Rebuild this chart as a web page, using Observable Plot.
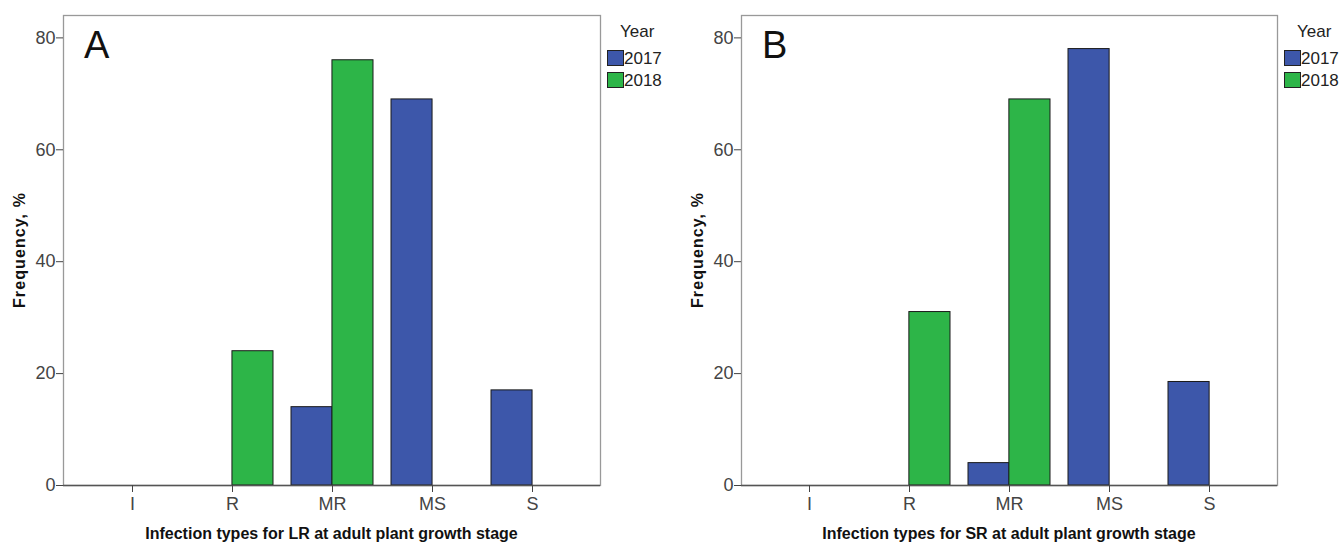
<!DOCTYPE html>
<html>
<head>
<meta charset="utf-8">
<script src="https://cdn.jsdelivr.net/npm/d3@7"></script>
<script src="https://cdn.jsdelivr.net/npm/@observablehq/plot@0.6"></script>
<style>
  body { margin: 0; background: #fff; }
  #wrap { position: relative; width: 1344px; height: 543px; overflow: hidden; background: #fff; }
  .panel { position: absolute; top: 0; width: 672px; height: 543px; }
  .panel svg { position: absolute; left: 0; top: 0; }
  .lbl { position: absolute; font-family: "Liberation Sans", Arial, sans-serif; color: #111; white-space: nowrap; }
  .xl { font-weight: bold; font-size: 16px; transform: translateX(-50%); }
  .yl { font-weight: bold; font-size: 16px; letter-spacing: 1.1px; transform: translate(-50%, -50%) rotate(-90deg); }
  .letter { font-size: 38px; line-height: 1; }
  .leg { font-size: 17px; color: #222; line-height: 1; }
  .sw { position: absolute; width: 15px; height: 14px; border: 1px solid #222; }
</style>
</head>
<body>
<div id="wrap"></div>
<script>
const types = ["I", "R", "MR", "MS", "S"];
const years = ["2017", "2018"];
const lr2017 = [0, 0, 14, 69, 17];
const lr2018 = [0, 24, 76, 0, 0];
const sr2017 = [0, 0, 4, 78, 18.5];
const sr2018 = [0, 31, 69, 0, 0];
const yTicks = [0, 20, 40, 60, 80];
const colors = ["#3D57AA", "#2DB548"];

const W = 672, H = 543;
const padInner = 0.183, padOuter = 0.27;
const tickFont = "'Liberation Sans Narrow', 'Arial Narrow', 'Liberation Sans', Arial, sans-serif";

function panel(left, values17, values18, xlabel, letter, mL, mR) {
  const div = document.createElement("div");
  div.className = "panel";
  div.style.left = left + "px";
  document.getElementById("wrap").appendChild(div);

  const plotW = W - mL - mR;
  const step = plotW / (types.length - padInner + 2 * padOuter);
  const bw = step * (1 - padInner);

  const d17 = types.map((t, i) => ({type: t, year: years[0], value: values17[i]}));
  const d18 = types.map((t, i) => ({type: t, year: years[1], value: values18[i]}));

  const chart = Plot.plot({
    width: W, height: H,
    marginLeft: mL, marginRight: mR, marginTop: 15, marginBottom: 58,
    style: {fontFamily: tickFont, fontSize: "18px", color: "#333", background: "transparent"},
    x: {domain: types, paddingInner: padInner, paddingOuter: padOuter, label: null},
    y: {domain: [0, 84], label: null},
    marks: [
      Plot.frame({stroke: "#999", strokeWidth: 1.3}),
      Plot.barY(d17, {x: "type", y: "value", fill: colors[0], stroke: "#1a1a1a", strokeWidth: 1, insetRight: bw / 2}),
      Plot.barY(d18, {x: "type", y: "value", fill: colors[1], stroke: "#1a1a1a", strokeWidth: 1, insetLeft: bw / 2}),
      Plot.ruleX([0], {frameAnchor: "left", stroke: "#555", strokeWidth: 1.3}),
      Plot.ruleY([0], {stroke: "#555", strokeWidth: 1.3}),
      Plot.axisY({ticks: yTicks, tickSize: 7, tickPadding: 1, label: null, stroke: "#444", fill: "#444", fontSize: 18, fontFamily: tickFont}),
      Plot.axisX({tickSize: 7, tickPadding: 5, label: null, stroke: "#444", fill: "#444", fontSize: 18, fontFamily: tickFont})
    ]
  });
  div.appendChild(chart);

  const xl = document.createElement("div");
  xl.className = "lbl xl";
  xl.textContent = xlabel;
  xl.style.left = (mL + plotW / 2) + "px";
  xl.style.top = "525px";
  div.appendChild(xl);

  const yl = document.createElement("div");
  yl.className = "lbl yl";
  yl.textContent = "Frequency, %";
  yl.style.left = (mL - 43) + "px";
  yl.style.top = "250px";
  div.appendChild(yl);

  const lt = document.createElement("div");
  lt.className = "lbl letter";
  lt.textContent = letter;
  lt.style.left = (mL + 21) + "px";
  lt.style.top = "26px";
  div.appendChild(lt);

  const lx = mL + plotW + 7;
  const yr = document.createElement("div");
  yr.className = "lbl leg";
  yr.textContent = "Year";
  yr.style.left = (lx + 13) + "px";
  yr.style.top = "23px";
  div.appendChild(yr);
  years.forEach((y, i) => {
    const sw = document.createElement("div");
    sw.className = "sw";
    sw.style.background = colors[i];
    sw.style.left = lx + "px";
    sw.style.top = (50 + i * 22) + "px";
    div.appendChild(sw);
    const t = document.createElement("div");
    t.className = "lbl leg";
    t.textContent = y;
    t.style.left = (lx + 17) + "px";
    t.style.top = (50 + i * 22) + "px";
    div.appendChild(t);
  });
}

panel(0, lr2017, lr2018, "Infection types for LR at adult plant growth stage", "A", 63, 72);
panel(672, sr2017, sr2018, "Infection types for SR at adult plant growth stage", "B", 69, 67);
</script>
</body>
</html>
